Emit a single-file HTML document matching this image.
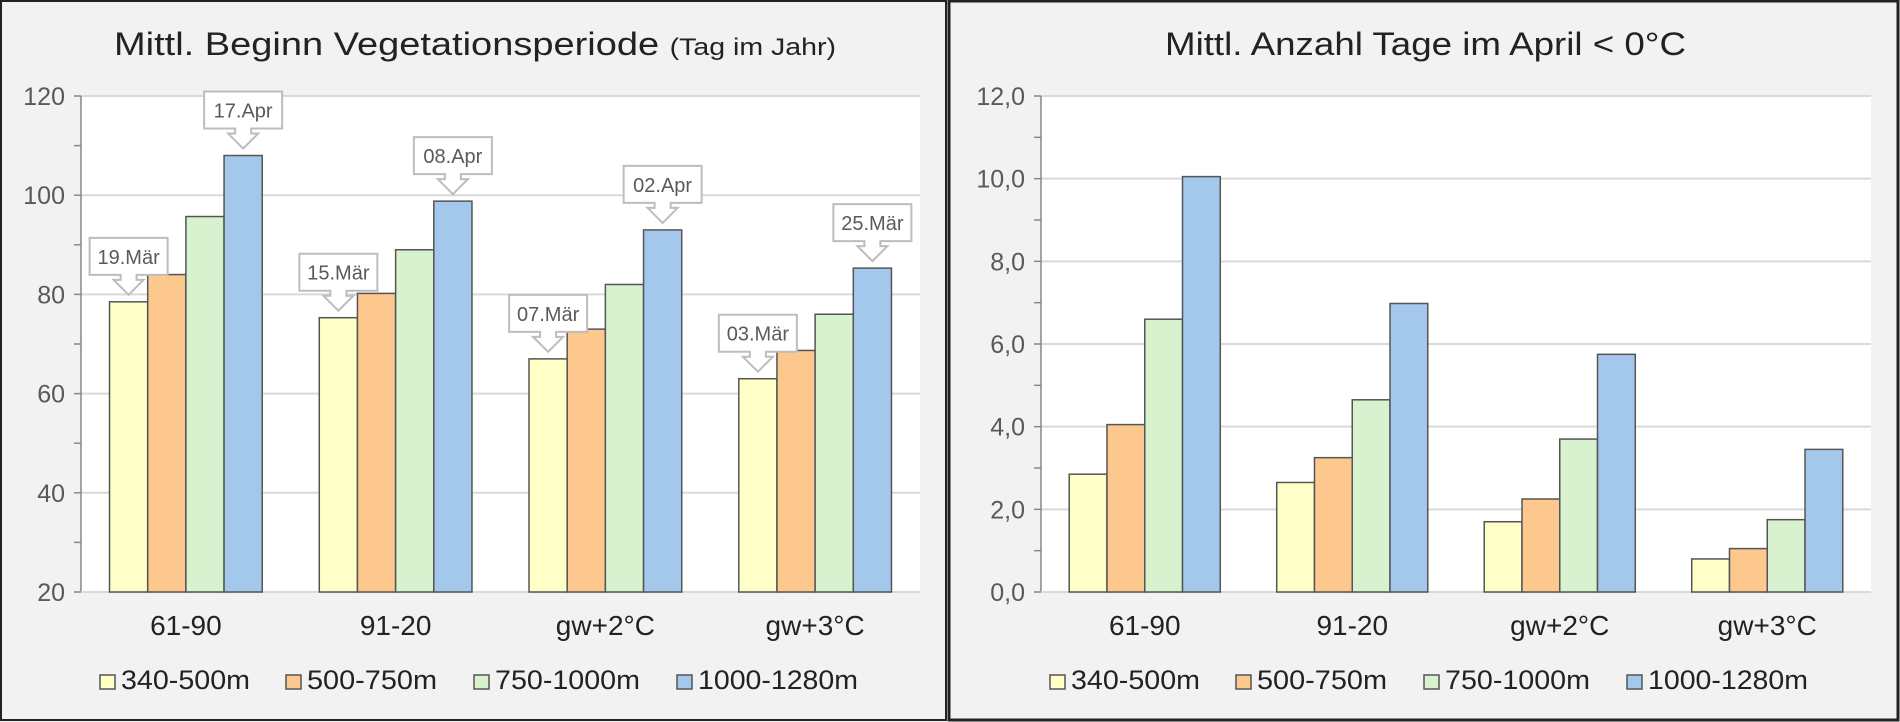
<!DOCTYPE html>
<html><head><meta charset="utf-8"><style>
html,body{margin:0;padding:0;background:#fff}
svg{display:block}
text{font-family:"Liberation Sans",sans-serif}
</style></head><body>
<svg id="s" width="1900" height="722" xmlns="http://www.w3.org/2000/svg">
<rect x="0" y="0" width="1900" height="722" fill="#f2f2f2"/>
<rect x="1" y="1" width="945" height="719" fill="none" stroke="#222" stroke-width="2"/>
<rect x="949" y="1" width="949" height="719" fill="none" stroke="#222" stroke-width="3"/>
<g id="left"></g>
<g id="right"></g>
</svg>
<script>
const categories = ["61-90","91-20","gw+2°C","gw+3°C"];
const seriesNames = ["340-500m","500-750m","750-1000m","1000-1280m"];
const vegLow = [78.5, 75.3, 67, 63];
const vegMid = [84, 80.2, 73, 68.7];
const vegHigh = [95.7, 89, 82, 76];
const vegTop = [108, 98.8, 93, 85.3];
const vegLowLabels = ["19.Mär","15.Mär","07.Mär","03.Mär"];
const vegTopLabels = ["17.Apr","08.Apr","02.Apr","25.Mär"];
const vegTicks = ["20","40","60","80","100","120"];
const frostLow = [2.85, 2.65, 1.7, 0.8];
const frostMid = [4.05, 3.25, 2.25, 1.05];
const frostHigh = [6.6, 4.65, 3.7, 1.75];
const frostTop = [10.05, 6.98, 5.75, 3.45];
const frostTicks = ["0,0","2,0","4,0","6,0","8,0","10,0","12,0"];
const colors = ["#ffffc8","#fcc88e","#d8f1cf","#a4c8ec"];
const NS="http://www.w3.org/2000/svg";
function mk(p,tag,attrs){const e=document.createElementNS(NS,tag);for(const k in attrs)e.setAttribute(k,attrs[k]);p.appendChild(e);return e;}

function chart(g,opt){
  const x0=opt.x0,x1=opt.x1,yTop=96,yBot=592;
  const y=v=>yBot-(v-opt.min)/(opt.max-opt.min)*(yBot-yTop);
  const r=mk(g,'rect',{x:x0,y:yTop,width:x1-x0,height:yBot-yTop,fill:'#fff'});
  
  
  const t=mk(g,'text',{x:opt.tx,y:55,'font-size':32,fill:'#222',textLength:opt.tw,lengthAdjust:'spacingAndGlyphs'});
  
  
  t.textContent=opt.title;
  if(opt.sub){const s=mk(g,'tspan',{'font-size':24});s.textContent=opt.sub;t.appendChild(s);}
  opt.ticks.forEach(lbl=>{
    const v=parseFloat(lbl.replace(',','.'));const yy=y(v);
    if(v>opt.min){const gl=mk(g,'line',{x1:x0,x2:x1,y1:yy,y2:yy,stroke:'#d9d9d9','stroke-width':2});
      
      }
    const tl=mk(g,'text',{x:x0-16,y:yy+9,'font-size':25,fill:'#595959','text-anchor':'end'});
    
    
    tl.textContent=lbl;
    mk(g,'line',{x1:x0-7,x2:x0,y1:yy,y2:yy,stroke:'#888','stroke-width':1.5});
    const mv=v+opt.step/2;
    if(mv<opt.max) mk(g,'line',{x1:x0-7,x2:x0,y1:y(mv),y2:y(mv),stroke:'#888','stroke-width':1.5});
  });
  const ax=mk(g,'line',{x1:x0,x2:x0,y1:yTop,y2:yBot,stroke:'#888','stroke-width':1.5});
  
  
  const xa=mk(g,'line',{x1:x0,x2:x1,y1:yBot,y2:yBot,stroke:'#d9d9d9','stroke-width':2});
  
  
  const cw=(x1-x0)/4, bw=cw*0.182, gw=bw*4;
  categories.forEach((c,i)=>{
    const cx=x0+cw*i+cw/2, gx=cx-gw/2;
    opt.series.forEach((arr,j)=>{
      const top=y(arr[i]);
      const b=mk(g,'rect',{x:gx+j*bw,y:top,width:bw,height:yBot-top,fill:colors[j],stroke:'#555','stroke-width':1.5});
      
      
    });
    const cl=mk(g,'text',{x:cx,y:635,'font-size':28,fill:'#222','text-anchor':'middle'});
    
    
    cl.textContent=c;
    if(opt.labels){
      [[0,opt.labels[0]],[3,opt.labels[1]]].forEach(([j,labs])=>{
        const bx=gx+j*bw+bw/2, tip=y(opt.series[j][i])-7;
        const bb=tip-20, bt=bb-37, w=78;
        const p=`M${bx-w/2},${bt} H${bx+w/2} V${bb} H${bx+8} V${bb+5} H${bx+15} L${bx},${tip} L${bx-15},${bb+5} H${bx-8} V${bb} H${bx-w/2} Z`;
        const cg=mk(g,'g',{});
        
        
        mk(cg,'path',{d:p,fill:'#fff',stroke:'#bdbdbd','stroke-width':2});
        const ct=mk(cg,'text',{x:bx,y:bt+26,'font-size':20,fill:'#5a5a5a','text-anchor':'middle'});
        ct.textContent=labs[i];
      });
    }
  });
  opt.legendX.forEach((lx,j)=>{
    const lg=mk(g,'g',{});
    
    
    mk(lg,'rect',{x:lx,y:675,width:15,height:14,fill:colors[j],stroke:'#555','stroke-width':1.5});
    const lt=mk(lg,'text',{x:lx+21,y:689,'font-size':27,fill:'#222',textLength:opt.legendW[j],lengthAdjust:'spacingAndGlyphs'});
    lt.textContent=seriesNames[j];
  });
}
chart(document.getElementById('left'),{x0:81,x1:920,min:20,max:120,step:20,ticks:vegTicks,
  series:[vegLow,vegMid,vegHigh,vegTop],labels:[vegLowLabels,vegTopLabels],
  title:"Mittl. Beginn Vegetationsperiode ",sub:"(Tag im Jahr)",tx:114,tw:722,
  legendX:[100,286,474,677],legendW:[129,130,145,160]});
chart(document.getElementById('right'),{x0:1041,x1:1871,min:0,max:12,step:2,ticks:frostTicks,
  series:[frostLow,frostMid,frostHigh,frostTop],
  title:"Mittl. Anzahl Tage im April < 0°C",tx:1165,tw:521,
  legendX:[1050,1236,1424,1627],legendW:[129,130,145,160]});
</script>
</body></html>
